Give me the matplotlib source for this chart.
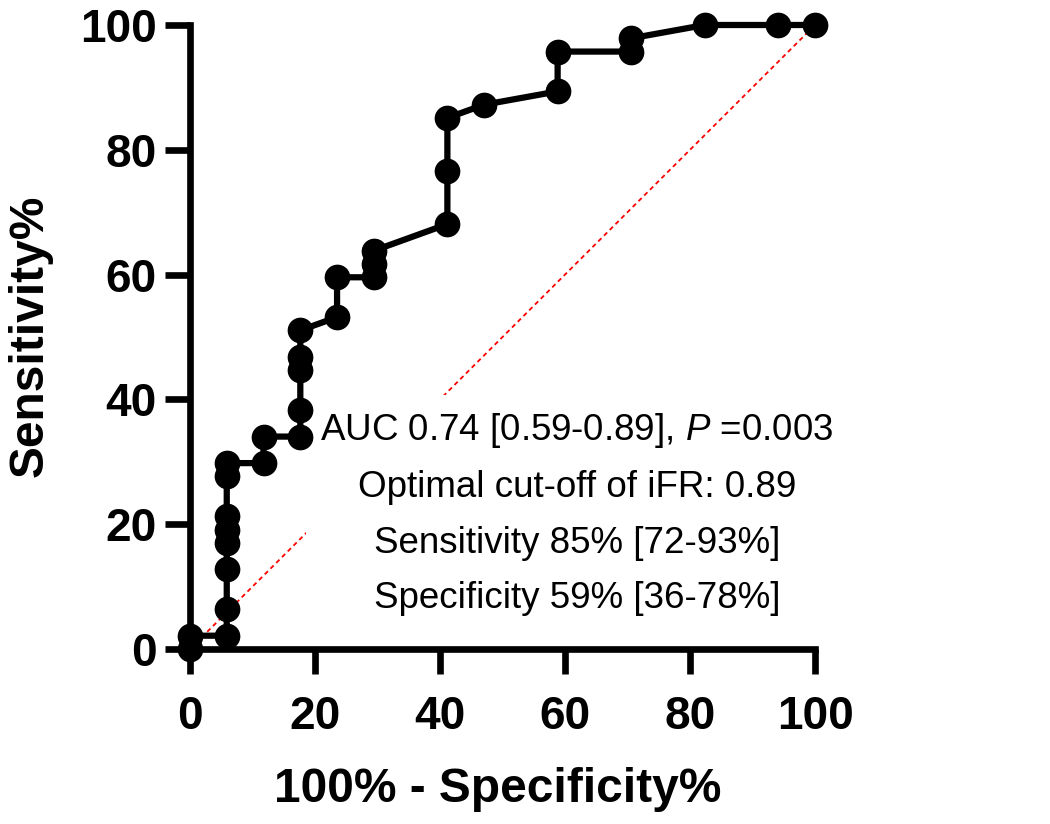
import matplotlib
matplotlib.use("Agg")
import matplotlib.pyplot as plt
from matplotlib import font_manager as fm

# ROC points: 100% - specificity (x) and sensitivity (y), in percent
fpr = [0, 0, 5.88, 5.88, 5.88, 5.88, 5.88, 5.88, 5.88, 5.88, 11.76, 11.76,
       17.65, 17.65, 17.65, 17.65, 17.65, 23.53, 23.53, 29.41, 29.41, 29.41,
       41.18, 41.18, 41.18, 47.06, 58.82, 58.82, 70.59, 70.59, 82.35, 94.12, 100]
sens = [0, 2.13, 2.13, 6.38, 12.77, 17.02, 19.15, 21.28, 27.66, 29.79, 29.79, 34.04,
        34.04, 38.30, 44.68, 46.81, 51.06, 53.19, 59.57, 59.57, 61.70, 63.83,
        68.09, 76.60, 85.11, 87.23, 89.36, 95.74, 95.74, 97.87, 100, 100, 100]
ref_line = [0, 100]
ticks = [0, 20, 40, 60, 80, 100]

annot = ("AUC 0.74 [0.59-0.89], $\\mathit{P}$ =0.003\n"
         "Optimal cut-off of iFR: 0.89\n"
         "Sensitivity 85% [72-93%]\n"
         "Specificity 59% [36-78%]")

# the reference uses a condensed sans; use it if present
try:
    fm.findfont("Liberation Sans Narrow", fallback_to_default=False)
    ann_font, ann_size, ann_ls = "Liberation Sans Narrow", 32, 1.45
except ValueError:
    ann_font, ann_size, ann_ls = "Liberation Sans", 26.5, 1.75

plt.rcParams["font.family"] = ["Liberation Sans", "DejaVu Sans"]
plt.rcParams["mathtext.fontset"] = "custom"
plt.rcParams["mathtext.rm"] = ann_font
plt.rcParams["mathtext.it"] = ann_font + ":italic"

fig = plt.figure(figsize=(10.5, 8.24), dpi=100)
ax = fig.add_axes([190 / 1050, 175 / 824, 625 / 1050, 624 / 824])

# chance line
ax.plot(ref_line, ref_line, color="#FF0000", lw=1.3, linestyle=(0, (2.5, 2)), zorder=1)

ax.plot(fpr, sens, color="black", lw=4.5, marker="o", markersize=17.5,
        clip_on=False, zorder=5)

# va="baseline" on multi-line text anchors the last line
ax.text(61.9, 6.6, annot, ha="center", va="baseline", multialignment="center",
        fontsize=ann_size, family=[ann_font, "DejaVu Sans"], linespacing=ann_ls,
        bbox=dict(facecolor="white", edgecolor="none", pad=10), zorder=3)

ax.set_xlim(0, 100)
ax.set_ylim(0, 100)
ax.set_xticks(ticks)
ax.set_yticks(ticks)
for s in ["top", "right"]:
    ax.spines[s].set_visible(False)
for s in ["left", "bottom"]:
    ax.spines[s].set_linewidth(4.8)
ax.tick_params(axis="both", direction="out", length=18, width=4.8, labelsize=33)
ax.tick_params(axis="x", pad=15)
ax.tick_params(axis="y", pad=6)
for lab in ax.get_xticklabels() + ax.get_yticklabels():
    lab.set_fontweight("bold")

fig.text(498 / 1050, 22 / 824, "100% - Specificity%", ha="center", va="baseline",
         fontsize=34.5, fontweight="bold")
fig.text(8 / 1050, (824 - 336) / 824, "Sensitivity%", rotation=90, ha="left",
         va="center", fontsize=34.5, fontweight="bold")

fig.savefig("out.png", dpi=100, facecolor="white")
